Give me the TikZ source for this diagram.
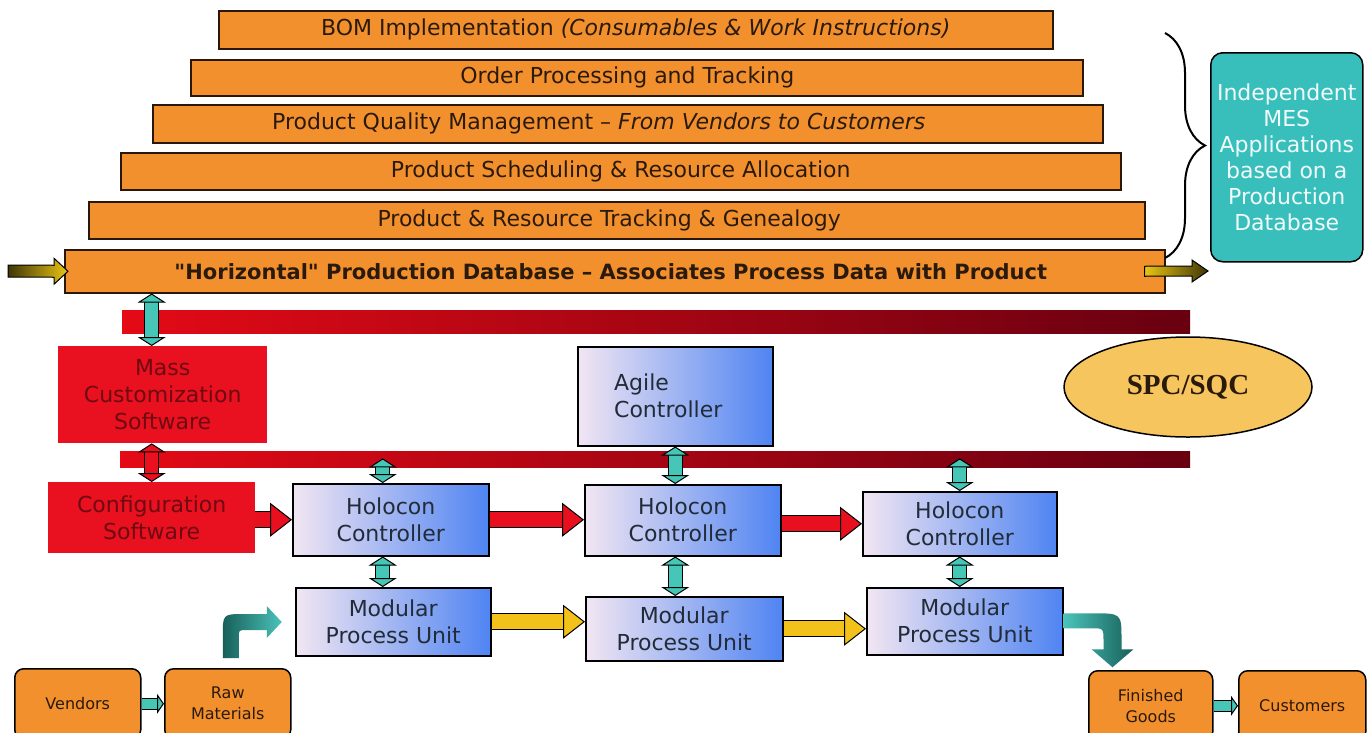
\documentclass[tikz,border=0pt]{standalone}
\usepackage{fontspec}
\setmainfont{DejaVu Sans}
\newfontfamily\dbfont{DejaVu Sans}
\newfontfamily\spcfont{Liberation Serif}
\usetikzlibrary{arrows.meta, calc, shapes.geometric, decorations.pathreplacing}

\definecolor{barorange}{HTML}{F3902E}
\definecolor{barline}{HTML}{2B1708}
\definecolor{bartext}{HTML}{2A1A0C}
\definecolor{mesteal}{HTML}{38BFBC}
\definecolor{linkteal}{HTML}{45C6B6}
\definecolor{swred}{HTML}{E9101F}
\definecolor{swtext}{HTML}{6E0A12}
\definecolor{busred}{HTML}{E40A16}
\definecolor{busdark}{HTML}{680010}
\definecolor{boxlight}{HTML}{F2E6F2}
\definecolor{boxmid}{HTML}{A4BEF2}
\definecolor{boxblue}{HTML}{4F84F2}
\definecolor{boxtext}{HTML}{222B38}
\definecolor{flowred}{HTML}{E8101E}
\definecolor{flowyellow}{HTML}{F2C21A}
\definecolor{spcgold}{HTML}{F6C55E}
\definecolor{feedolive}{HTML}{3E3606}
\definecolor{feedyellow}{HTML}{EAC514}
\definecolor{bendlight}{HTML}{4BC3BA}
\definecolor{benddark}{HTML}{17605A}

\tikzset{
  bar/.style={draw=barline, line width=1.5pt, fill=barorange, anchor=north west,
    inner sep=0pt, text=bartext, font=\fontsize{22}{26}\selectfont},
  bus/.style={left color=busred, right color=busdark, anchor=north west, inner sep=0pt},
  swbox/.style={fill=swred, text=swtext, anchor=north west, inner sep=0pt, align=center,
    font=\fontsize{22}{27}\selectfont},
  ctrl/.style={draw=black, line width=1.5pt, left color=boxlight, middle color=boxmid,
    right color=boxblue, anchor=north west, inner sep=0pt, align=center, text=boxtext,
    font=\fontsize{22}{27}\selectfont},
  endbox/.style={draw=black, line width=1.5pt, fill=barorange, rounded corners=9pt,
    anchor=north west, inner sep=0pt, align=center, text=bartext,
    font=\fontsize{16}{21}\selectfont},
  flow/.style={draw=#1, line width=15pt,
    -{Triangle[length=22pt,width=34pt,fill=#1,color=black,line width=1pt]},
    preaction={draw=black, line width=17pt, arrows=-, shorten >=20pt}},
  link/.style={draw=#1, line width=13pt,
    {Triangle[length=9pt,width=28pt,fill=#1,color=black,line width=1pt]}-{Triangle[length=9pt,width=28pt,fill=#1,color=black,line width=1pt]},
    preaction={draw=black, line width=15pt, arrows=-, shorten <=7pt, shorten >=7pt}},
  link/.default=linkteal,
  hop/.style={draw=linkteal, line width=10pt,
    -{Triangle[length=7pt,width=20pt,fill=linkteal,color=black,line width=1pt]},
    preaction={draw=black, line width=12pt, arrows=-, shorten >=5pt}},
}

\begin{document}
\begin{tikzpicture}[x=1pt, y=-1pt]
  \useasboundingbox (0,0) rectangle (1371,732);
  \clip (0,0) rectangle (1371,732);
  \fill[white] (0,0) rectangle (1371,732);

  % MES layers on the production database
  \node[bar, minimum width=834pt, minimum height=38pt] (bom) at (218,10)
    {BOM Implementation \textit{(Consumables \& Work Instructions)}};
  \node[bar, minimum width=892pt, minimum height=36pt] (order) at (190,59)
    {Order Processing and Tracking\hspace*{19pt}};
  \node[bar, minimum width=950pt, minimum height=38pt] (quality) at (152,104)
    {Product Quality Management -- \textit{From Vendors to Customers}\hspace*{58pt}};
  \node[bar, minimum width=1000pt, minimum height=37pt] (sched) at (120,152)
    {Product Scheduling \& Resource Allocation};
  \node[bar, minimum width=1056pt, minimum height=37pt] (track) at (88,201)
    {Product \& Resource Tracking \& Genealogy\hspace*{15pt}};
  \node[bar, minimum width=1100pt, minimum height=43pt, font=\dbfont\bfseries\fontsize{21}{25}\selectfont] (db) at (64,249)
    {"Horizontal" Production Database – Associates Process Data with Product\hspace*{8pt}};

  \coordinate (dbin) at (8,271);
  \coordinate (dbtail) at ($(db.east)+(-21,0)$);
  \coordinate (dbout) at (1208,271);

  \shade[left color=feedolive, right color=feedyellow, draw=black, line width=1pt]
    ($(dbin)+(0,-6)$) -- ($(db.west)+(-10,-6)$) -- ($(db.west)+(-10,-13)$) -- ($(db.west)+(4,0)$)
    -- ($(db.west)+(-10,13)$) -- ($(db.west)+(-10,6)$) -- ($(dbin)+(0,6)$) -- cycle;
  \shade[left color=feedyellow, right color=feedolive, draw=black, line width=1pt]
    ($(dbtail)+(0,-5)$) -- ($(dbout)+(-16,-5)$) -- ($(dbout)+(-16,-11)$) -- (dbout)
    -- ($(dbout)+(-16,11)$) -- ($(dbout)+(-16,5)$) -- ($(dbtail)+(0,5)$) -- cycle;

  % independent applications
  \draw[decorate, decoration={brace, amplitude=40pt}, line width=2pt] (1165,33) -- (1165,258);
  \node[draw=black, line width=1.5pt, fill=mesteal, rounded corners=12pt, anchor=north west,
    inner sep=0pt, minimum width=152pt, minimum height=209pt, align=center, text=white!93!mesteal,
    font=\fontsize{22}{26}\selectfont] (mes) at (1210,52)
    {Independent\\MES\\Applications\\based on a\\Production\\Database};

  % control buses
  \node[bus, minimum width=1068pt, minimum height=23pt] (busA) at (122,310) {};
  \node[bus, minimum width=1070pt, minimum height=16pt] (busB) at (120,451) {};

  \node[swbox, minimum width=209pt, minimum height=97pt] (mass) at (58,346)
    {Mass\\Customization\\Software};
  \node[swbox, minimum width=207pt, minimum height=71pt] (cfg) at (48,482)
    {Configuration\\Software};

  \node[ctrl, minimum width=195pt, minimum height=99pt, align=left] (agile) at (577,346)
    {Agile\\Controller\hspace*{14pt}};
  \node[ctrl, minimum width=196pt, minimum height=72pt] (hc1) at (292,483) {Holocon\\Controller};
  \node[ctrl, minimum width=196pt, minimum height=71pt] (hc2) at (584,484) {Holocon\\Controller};
  \node[ctrl, minimum width=194pt, minimum height=64pt] (hc3) at (862,491) {Holocon\\Controller};
  \node[ctrl, minimum width=195pt, minimum height=68pt] (mpuA) at (295,587) {Modular\\Process Unit};
  \node[ctrl, minimum width=197pt, minimum height=64pt] (mpuB) at (585,596) {Modular\\Process Unit};
  \node[ctrl, minimum width=196pt, minimum height=67pt] (mpuC) at (866,587) {Modular\\Process Unit};

  \node[ellipse, draw=black, line width=1.5pt, fill=spcgold, minimum width=248pt, minimum height=100pt,
    text=bartext, font=\spcfont\bfseries\fontsize{29}{34}\selectfont] (spc) at (1188,387) {SPC/SQC};

  \node[endbox, minimum width=126pt, minimum height=70pt] (vend) at (14,668) {Vendors};
  \node[endbox, minimum width=126pt, minimum height=70pt] (raw) at (164,668) {Raw\\Materials};
  \node[endbox, minimum width=124pt, minimum height=70pt] (fin) at (1088,670) {Finished\\Goods};
  \node[endbox, minimum width=127pt, minimum height=70pt] (cust) at (1238,670) {Customers};

  % vertical links
  \coordinate (colA) at ($(hc1.north)+(-8,0)$);
  \draw[link] (db.south -| cfg.north) -- (mass.north -| cfg.north);
  \draw[link=swred] (mass.south -| cfg.north) -- (cfg.north);
  \draw[link] ($(busB.south -| colA)+(0,-9)$) -- (hc1.north -| colA);
  \draw[link] (hc1.south -| colA) -- (mpuA.north -| colA);
  \draw[link] (agile.south) -- (agile.south |- hc2.north);
  \draw[link] (hc2.south -| agile.south) -- (mpuB.north -| agile.south);
  \draw[link] ($(busB.south -| hc3.north)+(0,-9)$) -- (hc3.north);
  \draw[link] (hc3.south) -- (hc3.south |- mpuC.north);

  % configuration and material flow
  \draw[flow=flowred] (cfg.east |- hc1.west) -- (hc1.west);
  \draw[flow=flowred] (hc1.east) -- (hc1.east -| hc2.west);
  \draw[flow=flowred] (hc2.east |- hc3.west) -- (hc3.west);
  \draw[flow=flowyellow] (mpuA.east) -- (mpuA.east -| mpuB.west);
  \draw[flow=flowyellow] (mpuB.east) -- (mpuB.east -| mpuC.west);

  \draw[hop] (vend.east) -- (raw.west);
  \draw[hop] (fin.east) -- (cust.west);

  \shade[shift={(raw.north)}, left color=benddark, right color=bendlight]
    (-5,-10) -- (-5,-32) .. controls (-5,-54) .. (17,-54) -- (39,-54) -- (39,-62) -- (54,-46)
    -- (39,-30) -- (39,-38) -- (19,-38) .. controls (11,-38) .. (11,-30) -- (11,-10) -- cycle;
  \shade[shift={(mpuC.east)}, left color=bendlight, right color=benddark]
    (0,-8) -- (28,-8) .. controls (58,-8) .. (58,18) -- (58,28) -- (70,28) -- (49,46)
    -- (28,28) -- (40,28) -- (40,20) .. controls (40,7) .. (28,7) -- (0,7) -- cycle;
\end{tikzpicture}
\end{document}
